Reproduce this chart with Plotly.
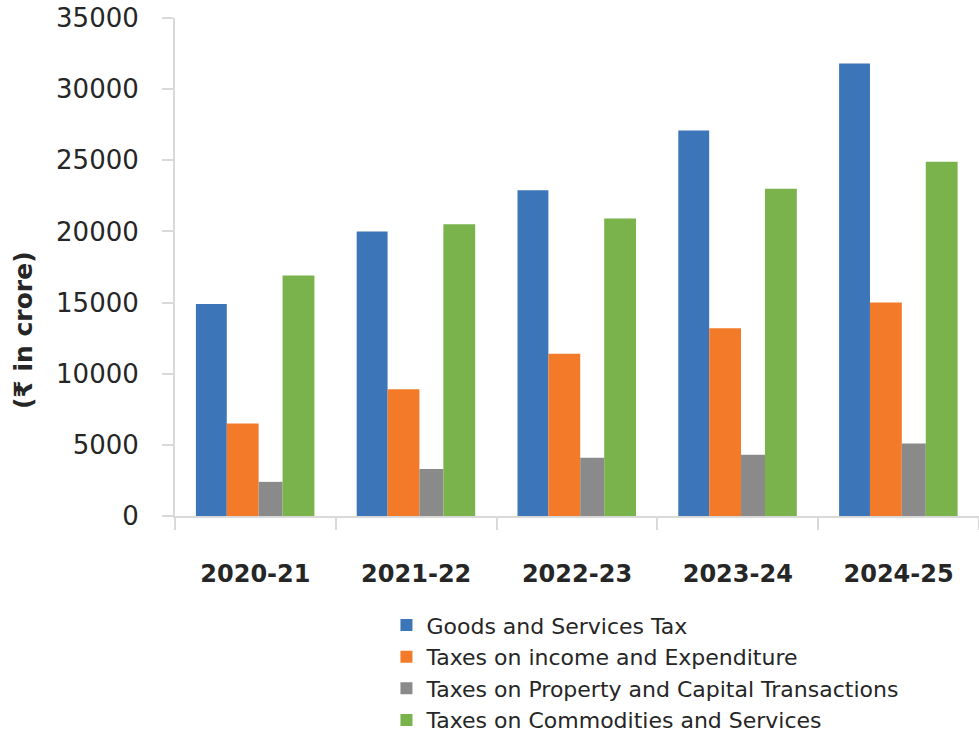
import plotly.graph_objects as go

# Fiscal years on the category axis
years = ["2020-21", "2021-22", "2022-23", "2023-24", "2024-25"]

# Revenue by head (₹ in crore)
gst = [14900, 20000, 22900, 27100, 31800]
income_expenditure = [6500, 8900, 11400, 13200, 15000]
property_capital = [2400, 3300, 4100, 4300, 5100]
commodities_services = [16900, 20500, 20900, 23000, 24900]

series_names = [
    "Goods and Services Tax",
    "Taxes on income and Expenditure",
    "Taxes on Property and Capital Transactions",
    "Taxes on Commodities and Services",
]
series_values = [gst, income_expenditure, property_capital, commodities_services]
colors = ["#3D75B9", "#F37A28", "#8A8A8A", "#7AB24C"]
# offset / width within each category slot (category units)
offsets = [-0.370, -0.178, 0.020, 0.169]
widths = [0.192, 0.198, 0.149, 0.198]

FONT = "DejaVu Sans, Noto Sans, sans-serif"
y_title = "(₹ in crore)"

fig = go.Figure()
for i, (name, vals) in enumerate(zip(series_names, series_values)):
    fig.add_trace(go.Bar(
        x=years, y=vals, name=name,
        marker=dict(color=colors[i], line=dict(width=0)),
        offset=offsets[i], width=widths[i],
    ))

# vertical axis caption, set a little below the axis midpoint
fig.add_annotation(
    text=y_title, xref="paper", yref="paper",
    x=-0.189, y=0.5636, xanchor="center", yanchor="middle",
    textangle=-90, showarrow=False,
    font=dict(size=25, family=FONT, color="#262626", weight="bold"),
)

fig.update_layout(
    width=979, height=733,
    margin=dict(l=175, r=0, t=18, b=0, autoexpand=False),
    paper_bgcolor="white", plot_bgcolor="white",
    barmode="overlay",
    font=dict(family=FONT, color="#262626"),
    showlegend=True,
    legend=dict(
        x=0.263, y=0.180, xanchor="left", yanchor="top",
        font=dict(size=22, color="#262626", family=FONT),
        tracegroupgap=0,
        bgcolor="rgba(0,0,0,0)",
    ),
    xaxis=dict(
        type="category", automargin=False,
        showline=True, linecolor="#D9D9D9", linewidth=2,
        ticks="outside", tickson="boundaries", ticklen=12,
        tickcolor="#D9D9D9", tickwidth=2,
        tickfont=dict(size=24, family="DejaVu Sans", color="#262626", weight="bold"),
        ticklabelstandoff=35,
        showgrid=False, zeroline=False,
    ),
    yaxis=dict(
        domain=[0.3035, 1.0], automargin=False,
        range=[0, 35000], dtick=5000, tick0=0, tickformat="d",
        showline=True, linecolor="#D9D9D9", linewidth=2,
        ticks="outside", ticklen=11, tickcolor="#D9D9D9", tickwidth=2,
        tickfont=dict(size=26, family=FONT, color="#262626"),
        ticklabelstandoff=18,
        showgrid=False, zeroline=False,
    ),
)

fig.write_html("out.html")
